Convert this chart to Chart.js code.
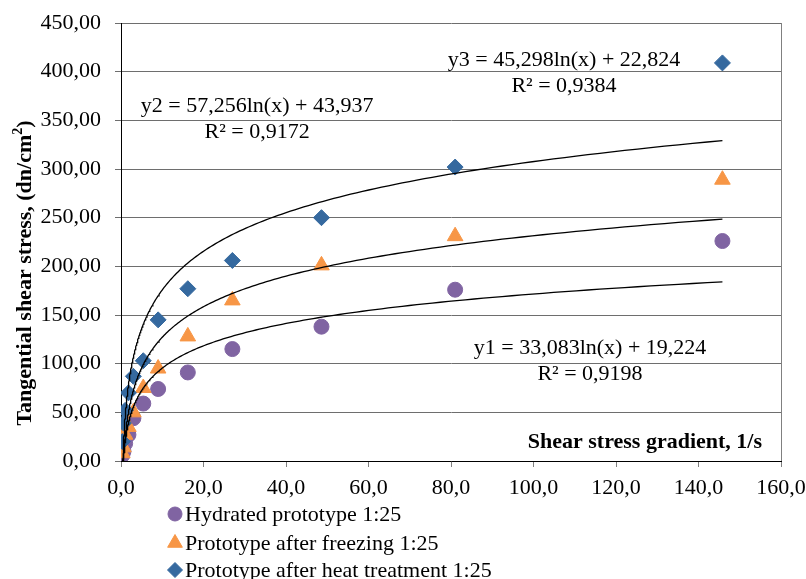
<!DOCTYPE html>
<html>
<head>
<meta charset="utf-8">
<script src="https://cdn.jsdelivr.net/npm/chart.js@4.4.1/dist/chart.umd.min.js"></script>
<style>
  html, body { margin: 0; padding: 0; background: #fff; }
  #wrap { width: 806px; height: 579px; }
</style>
</head>
<body>
<div id="wrap"><canvas id="myChart" width="806" height="579"></canvas></div>
<script>
// shear rate values, 1/s
const shearRates = [0.333, 0.6, 1.0, 1.8, 3.0, 5.4, 9.0, 16.2, 27.0, 48.6, 81.0, 145.8];
// tangential shear stress, dn/cm2
const hydrated = [6, 10, 18, 27, 44, 59, 74, 91, 115, 138, 176, 226];
const afterFreezing = [8, 14, 27, 35, 50, 75, 95, 128, 165, 201, 231, 289];
const afterHeat = [20, 39, 52, 70, 87, 103, 145, 177, 206, 250, 302, 409];

const seriesLabels = [
  'Hydrated prototype 1:25',
  'Prototype after freezing 1:25',
  'Prototype after heat treatment 1:25'
];

// logarithmic trendlines y = a*ln(x) + b, as printed on the chart
const trendA = [33.083, 57.256, 45.298];
const trendB = [19.224, 43.937, 22.824];
const trendText = [
  ['y1 = 33,083ln(x) + 19,224', 'R² = 0,9198'],
  ['y2 = 57,256ln(x) + 43,937', 'R² = 0,9172'],
  ['y3 = 45,298ln(x) + 22,824', 'R² = 0,9384']
];
// where the equation boxes sit (in data units)
const trendTextX = [113.7, 33.0, 107.4];
const trendTextY = [116, 365, 412];

const xTicks = [0, 20, 40, 60, 80, 100, 120, 140, 160];
const yTicks = [0, 50, 100, 150, 200, 250, 300, 350, 400, 450];

const serif = '"Liberation Serif", "Times New Roman", serif';
const fs = 22;

const toPoints = (ys) => ys.map((y, i) => ({ x: shearRates[i], y: y }));

const trendPoints = (k) => {
  const pts = [];
  const x0 = shearRates[0], x1 = shearRates[shearRates.length - 1];
  const n = 240;
  for (let i = 0; i <= n; i++) {
    const x = x0 * Math.pow(x1 / x0, i / n);
    pts.push({ x: x, y: trendA[k] * Math.log(x) + trendB[k] });
  }
  return pts;
};

const colors = ['#8064A2', '#F79646', '#35699F'];
const styles = ['circle', 'triangle', 'rectRot'];
const radii = [7.5, 9, 8];

const overlay = {
  id: 'overlay',
  afterDraw(chart) {
    const ctx = chart.ctx;
    const xs = chart.scales.x, ys = chart.scales.y;
    const area = chart.chartArea;
    ctx.save();
    // right border of the plot area
    ctx.strokeStyle = '#808080';
    ctx.lineWidth = 1;
    ctx.beginPath();
    ctx.moveTo(Math.round(area.right) + 0.5, area.top);
    ctx.lineTo(Math.round(area.right) + 0.5, area.bottom);
    ctx.stroke();

    // trendline equations
    ctx.fillStyle = '#000';
    ctx.font = fs + 'px ' + serif;
    ctx.textAlign = 'center';
    ctx.textBaseline = 'middle';
    trendText.forEach((lines, k) => {
      const px = xs.getPixelForValue(trendTextX[k]);
      const py = ys.getPixelForValue(trendTextY[k]);
      ctx.fillText(lines[0], px, py);
      ctx.fillText(lines[1], px, py + 26);
    });

    // x axis title inside the plot
    ctx.font = 'bold ' + fs + 'px ' + serif;
    ctx.textAlign = 'right';
    ctx.fillText('Shear stress gradient, 1/s', area.right - 19, area.bottom - 19);

    // y axis title
    ctx.save();
    ctx.translate(25, 273);
    ctx.rotate(-Math.PI / 2);
    ctx.font = 'bold ' + fs + 'px ' + serif;
    const t1 = 'Tangential shear stress, (dn/cm';
    const w1 = ctx.measureText(t1).width;
    ctx.font = 'bold 14px ' + serif;
    const w2 = ctx.measureText('2').width;
    ctx.font = 'bold ' + fs + 'px ' + serif;
    const w3 = ctx.measureText(')').width;
    const sx = -(w1 + w2 + w3) / 2;
    ctx.textAlign = 'left';
    ctx.fillText(t1, sx, 0);
    ctx.font = 'bold 14px ' + serif;
    ctx.fillText('2', sx + w1, -7);
    ctx.font = 'bold ' + fs + 'px ' + serif;
    ctx.fillText(')', sx + w1 + w2, 0);
    ctx.restore();

    // legend
    ctx.font = fs + 'px ' + serif;
    ctx.textAlign = 'left';
    ctx.textBaseline = 'middle';
    const rowsY = [514, 543, 570];
    seriesLabels.forEach((label, k) => {
      const ly = rowsY[k];
      ctx.fillStyle = colors[k];
      ctx.strokeStyle = colors[k];
      Chart.helpers.drawPoint(ctx, {
        pointStyle: styles[k], radius: radii[k] - 0.5, borderWidth: 1
      }, 175, ly);
      ctx.fillStyle = '#000';
      ctx.fillText(label, 185, ly + 1);
    });
    ctx.restore();
  }
};

const comma = (v, d) => v.toFixed(d).replace('.', ',');

const scatterSets = [hydrated, afterFreezing, afterHeat].map((ys, k) => ({
  type: 'scatter',
  label: seriesLabels[k],
  data: toPoints(ys),
  pointStyle: styles[k],
  pointRadius: radii[k],
  pointHoverRadius: radii[k],
  backgroundColor: colors[k],
  borderColor: colors[k],
  borderWidth: 1,
  order: 3 - k
}));

const trendSets = [0, 1, 2].map((k) => ({
  type: 'line',
  label: 'trend ' + (k + 1),
  data: trendPoints(k),
  borderColor: '#000',
  borderWidth: 1.3,
  pointRadius: 0,
  fill: false,
  tension: 0,
  order: 0
}));

const ctx = document.getElementById('myChart').getContext('2d');
const myChart = new Chart(ctx, {
  type: 'scatter',
  data: { datasets: scatterSets.concat(trendSets) },
  options: {
    responsive: false,
    animation: false,
    events: [],
    layout: { padding: { top: 23, right: 25, left: 0, bottom: 0 } },
    plugins: {
      legend: { display: false },
      tooltip: { enabled: false }
    },
    scales: {
      x: {
        type: 'linear',
        min: 0,
        max: 160,
        afterBuildTicks: (axis) => { axis.ticks = xTicks.map(v => ({ value: v })); },
        afterFit: (axis) => {
          axis.height = 118;
          axis.paddingLeft = 0;
          axis.paddingRight = 0;
        },
        grid: { drawOnChartArea: false, drawTicks: true, tickLength: 6, color: '#808080' },
        border: { display: true, color: '#000', width: 1 },
        ticks: {
          color: '#000',
          font: { family: serif, size: fs },
          padding: 8,
          maxRotation: 0,
          callback: (v) => comma(v, 1)
        }
      },
      y: {
        type: 'linear',
        min: 0,
        max: 450,
        afterBuildTicks: (axis) => { axis.ticks = yTicks.map(v => ({ value: v })); },
        afterFit: (axis) => {
          axis.width = 121;
          axis.paddingTop = 0;
          axis.paddingBottom = 0;
        },
        grid: { drawOnChartArea: true, drawTicks: true, tickLength: 6, color: '#6e6e6e' },
        border: { display: true, color: '#000', width: 1 },
        ticks: {
          color: '#000',
          font: { family: serif, size: fs },
          padding: 14,
          callback: (v) => comma(v, 2)
        }
      }
    }
  },
  plugins: [overlay]
});
</script>
</body>
</html>
